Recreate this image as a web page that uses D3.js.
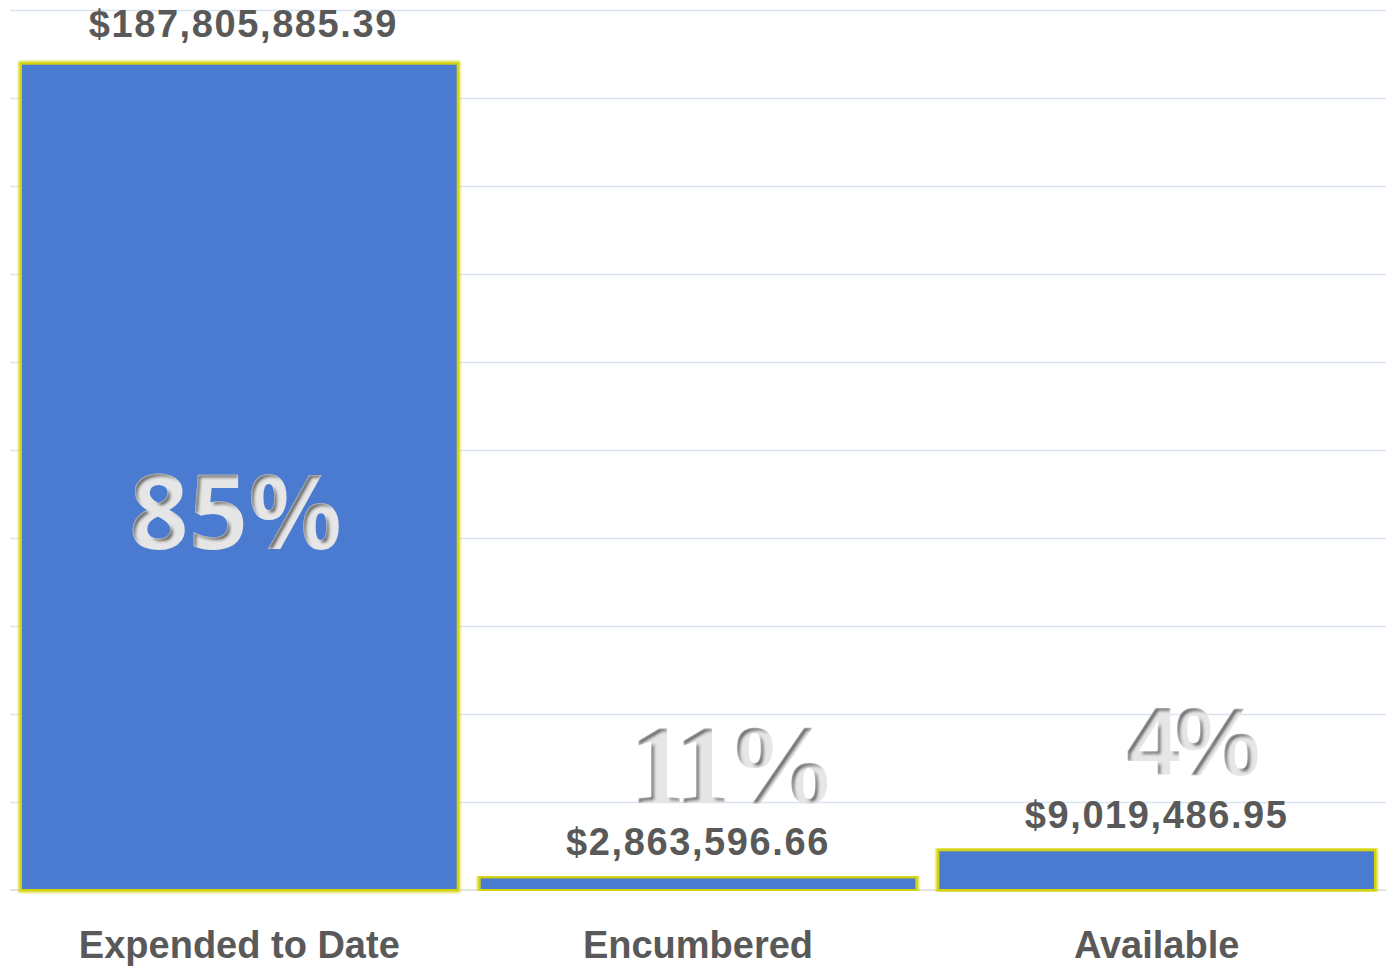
<!DOCTYPE html>
<html>
<head>
<meta charset="utf-8">
<script src="https://cdn.jsdelivr.net/npm/d3@7"></script>
<style>
  body { margin: 0; background: #fff; }
  svg { display: block; }
  .grid line { stroke: #dae3f3; stroke-width: 1.5; }
  .grid path { display: none; }
  .value { font-family: "Liberation Sans", Arial, sans-serif; font-weight: bold; font-size: 38px; letter-spacing: 1.6px; fill: #595959; }
  .cat { font-family: "Liberation Sans", Arial, sans-serif; font-weight: bold; font-size: 38px; fill: #595959; }
  .pct { font-weight: bold; fill: #e6e6e6; }
</style>
</head>
<body>
<svg class="chart"></svg>
<script>
const categories = ['Expended to Date', 'Encumbered', 'Available']
const amounts = [187805885.39, 2863596.66, 9019486.95]
const amountLabels = ['$187,805,885.39', '$2,863,596.66', '$9,019,486.95']
const percentLabels = ['85%', '11%', '4%']
const tickValues = [0, 20e6, 40e6, 60e6, 80e6, 100e6, 120e6, 140e6, 160e6, 180e6, 200e6]

const width = 1392
const height = 966
const plotLeft = 10
const plotRight = 1386
const plotTop = 10
const plotBottom = 890

const svg = d3.select('.chart')
  .attr('width', width)
  .attr('height', height)

// inset shadow for the big percentage numbers
const defs = svg.append('defs')
const f = defs.append('filter').attr('id', 'inset')
  .attr('x', '-10%').attr('y', '-10%').attr('width', '120%').attr('height', '120%')
f.append('feOffset').attr('in', 'SourceAlpha').attr('dx', 3).attr('dy', 3).attr('result', 'off')
f.append('feComposite').attr('in', 'SourceAlpha').attr('in2', 'off').attr('operator', 'out').attr('result', 'edge')
f.append('feGaussianBlur').attr('in', 'edge').attr('stdDeviation', 1.6).attr('result', 'blur')
f.append('feFlood').attr('flood-color', '#333').attr('flood-opacity', 0.95).attr('result', 'col')
f.append('feComposite').attr('in', 'col').attr('in2', 'blur').attr('operator', 'in').attr('result', 'sh')
f.append('feComposite').attr('in', 'sh').attr('in2', 'SourceAlpha').attr('operator', 'in').attr('result', 'sh2')
const merge = f.append('feMerge')
merge.append('feMergeNode').attr('in', 'SourceGraphic')
merge.append('feMergeNode').attr('in', 'sh2')

const glow = defs.append('filter').attr('id', 'glow')
  .attr('x', '-5%').attr('y', '-5%').attr('width', '110%').attr('height', '110%')
glow.append('feGaussianBlur').attr('in', 'SourceGraphic').attr('stdDeviation', 0.8)

const xScale = d3.scaleBand()
  .domain(categories)
  .range([plotLeft, plotRight])
  .paddingInner(0.048)
  .paddingOuter(0.024)

const yScale = d3.scaleLinear()
  .domain([0, 200e6])
  .range([plotBottom, plotTop])

const yGrid = d3.axisLeft(yScale)
  .tickValues(tickValues.slice(1))
  .tickSize(-(plotRight - plotLeft))
  .tickFormat('')

svg.append('g')
  .attr('class', 'grid')
  .attr('transform', 'translate(' + plotLeft + ',0)')
  .call(yGrid)

svg.append('line')
  .attr('x1', plotLeft).attr('x2', plotRight)
  .attr('y1', yScale(0)).attr('y2', yScale(0))
  .attr('stroke', '#d9d9d9')
  .attr('stroke-width', 1.5)

const bar = svg.selectAll('g.bar')
  .data(categories)
  .enter()
  .append('g')
  .attr('class', 'bar')

bar.append('rect')
  .attr('x', d => xScale(d))
  .attr('y', (d, i) => yScale(amounts[i]))
  .attr('width', xScale.bandwidth())
  .attr('height', (d, i) => yScale(0) - yScale(amounts[i]))
  .attr('fill', 'none')
  .attr('stroke', '#d6d61e')
  .attr('stroke-width', 5)
  .attr('filter', 'url(#glow)')

bar.append('rect')
  .attr('x', d => xScale(d))
  .attr('y', (d, i) => yScale(amounts[i]))
  .attr('width', xScale.bandwidth())
  .attr('height', (d, i) => yScale(0) - yScale(amounts[i]))
  .attr('fill', '#4a7bd1')
  .attr('stroke', '#d3d30c')
  .attr('stroke-width', 2)

bar.append('text')
  .attr('class', 'value')
  .attr('text-anchor', 'middle')
  .attr('x', (d, i) => xScale(d) + xScale.bandwidth() / 2 + (i === 0 ? 4 : 0))
  .attr('y', (d, i) => yScale(amounts[i]) - (i === 0 ? 27 : 22))
  .text((d, i) => amountLabels[i])

bar.append('text')
  .attr('class', 'cat')
  .attr('text-anchor', 'middle')
  .attr('x', d => xScale(d) + xScale.bandwidth() / 2)
  .attr('y', plotBottom + 68)
  .text(d => d)

// percentage labels, placed by hand like in the original
const pctPos = [
  {dx: -4, y: 549, size: 104, ls: 0, font: '"Noto Sans", "DejaVu Sans", sans-serif'},
  {dx: 33, y: 803, size: 112, ls: -5, font: '"Liberation Serif", "DejaVu Serif", serif'},
  {dx: 34, y: 775, size: 96, ls: -5, font: '"Liberation Sans", Arial, sans-serif'}
]

bar.append('text')
  .attr('class', 'pct')
  .attr('text-anchor', 'middle')
  .attr('x', (d, i) => xScale(d) + xScale.bandwidth() / 2 + pctPos[i].dx)
  .attr('y', (d, i) => pctPos[i].y)
  .style('font-family', (d, i) => pctPos[i].font)
  .style('font-size', (d, i) => pctPos[i].size + 'px')
  .style('letter-spacing', (d, i) => pctPos[i].ls + 'px')
  .attr('filter', 'url(#inset)')
  .text((d, i) => percentLabels[i])
</script>
</body>
</html>
